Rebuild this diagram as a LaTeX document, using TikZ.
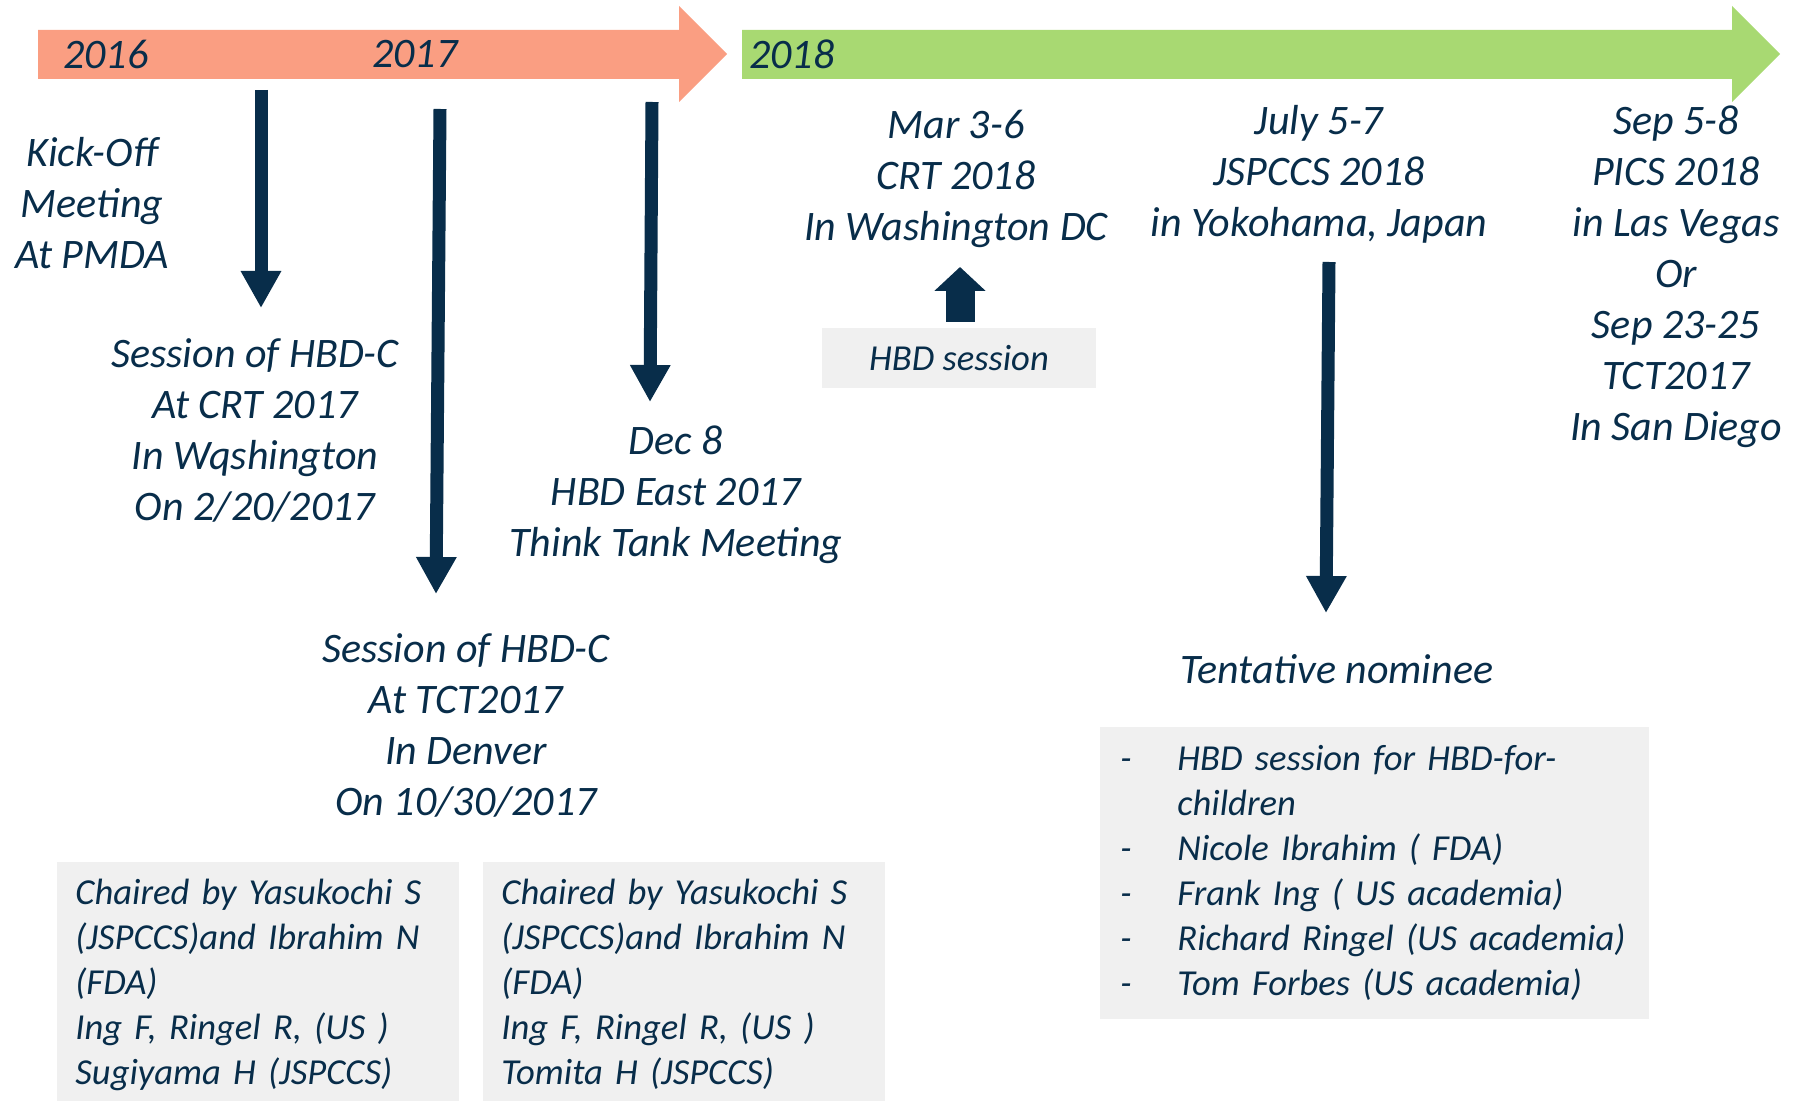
\documentclass[tikz,border=0pt]{standalone}
\usepackage{fontspec}
\setmainfont{Carlito}
\usetikzlibrary{arrows.meta}
\definecolor{navy}{RGB}{8,45,74}
\definecolor{barorange}{RGB}{250,158,130}
\definecolor{bargreen}{RGB}{168,217,114}
\definecolor{panelgray}{RGB}{240,240,240}
\newcommand{\nomline}[1]{\makebox[28.5pt][l]{-}\mbox{#1}}

\begin{document}
\begin{tikzpicture}[x=0.5pt, y=-0.5pt,
	big/.style={align=center, text=navy, font=\fontsize{21}{25.5}\selectfont\itshape, inner sep=0pt},
	small/.style={text=navy, font=\fontsize{18.3}{22.5}\selectfont\itshape},
	panel/.style={small, fill=panelgray, align=left, anchor=north west},
	drop/.style={draw=navy, line width=6.5pt, -{Triangle[length=18.5pt,width=19pt]}}]
	\useasboundingbox (0,0) rectangle (1799,1101);
	% time bars
	\fill[barorange] (38,30) -- (679,30) -- (679,6) -- (727,54) -- (679,102) -- (679,79) -- (38,79) -- cycle;
	\fill[bargreen] (742,30) -- (1732,30) -- (1732,6) -- (1780,54) -- (1732,102) -- (1732,79) -- (742,79) -- cycle;
	\node (y2016) at (63,54) [big, anchor=west] {2016};
	\node (y2017) at (372,54) [big, anchor=west] {2017};
	\node (y2018) at (749,54) [big, anchor=west] {2018};
		% events
		\node (kickoff) at (92,203) [big] {Kick-Off\\Meeting\\At PMDA};
		\node (crt17) at (255,430) [big] {Session of HBD-C\\At CRT 2017\\In Wqshington\\On 2/20/2017};
		\node (dec8) at (676,495) [big] {Dec 8\\HBD East 2017\\Think Tank Meeting};
		\node (tct17) at (466,725) [big] {Session of HBD-C\\At TCT2017\\In Denver\\On 10/30/2017};
		\node (crt18) at (956,179) [big] {Mar 3-6\\CRT 2018\\In Washington DC};
		\node (jspccs) at (1319,174) [big] {July 5-7\\JSPCCS 2018\\in Yokohama, Japan};
		\node (pics) at (1676,277) [big] {Sep 5-8\\PICS 2018\\in Las Vegas\\Or\\Sep 23-25\\TCT2017\\In San Diego};
		\node (nominee) at (1337,669) [big] {Tentative nominee};
			% grey panels
			\node (hbd) at (959,358) [small, fill=panelgray, minimum width=137pt, minimum height=30pt, inner sep=0pt] {HBD session};
			\node (chairA) at (57,862) [panel, text width=183pt, inner xsep=9pt, inner ysep=8.5pt, text depth=110pt] {Chaired by Yasukochi S\\(JSPCCS)and Ibrahim N\\(FDA)\\Ing F, Ringel R, (US )\\Sugiyama H (JSPCCS)};
			\node (chairB) at (483,862) [panel, text width=183pt, inner xsep=9pt, inner ysep=8.5pt, text depth=110pt] {Chaired by Yasukochi S\\(JSPCCS)and Ibrahim N\\(FDA)\\Ing F, Ringel R, (US )\\Tomita H (JSPCCS)};
			\node (nomlist) at (1100,727) [panel, text width=254.5pt, inner xsep=10pt, inner ysep=9pt] {\nomline{HBD session for HBD-for-}\\\hspace*{28.5pt}children\\\nomline{Nicole Ibrahim ( FDA)}\\\nomline{Frank Ing ( US academia)}\\\nomline{Richard Ringel (US academia)}\\\nomline{Tom Forbes (US academia)}};
	% arrows
	\coordinate (a1) at (261,90);   \coordinate (b1) at (261,308);
	\coordinate (a2) at (440,109);  \coordinate (b2) at (436,594);
	\coordinate (a3) at (652,102);  \coordinate (b3) at (650,402);
	\coordinate (a4) at (1329,262); \coordinate (b4) at (1326,613);
	\draw[drop] (a1) to (b1);
	\draw[drop] (a2) to (b2);
	\draw[drop] (a3) to (b3);
	\draw[drop] (a4) to (b4);
	\draw[draw=navy, line width=14.5pt, -{Triangle[length=12pt,width=25pt]}] (hbd.north) ++(1,-6) coordinate (up) to (960,267);
\end{tikzpicture}
\end{document}
